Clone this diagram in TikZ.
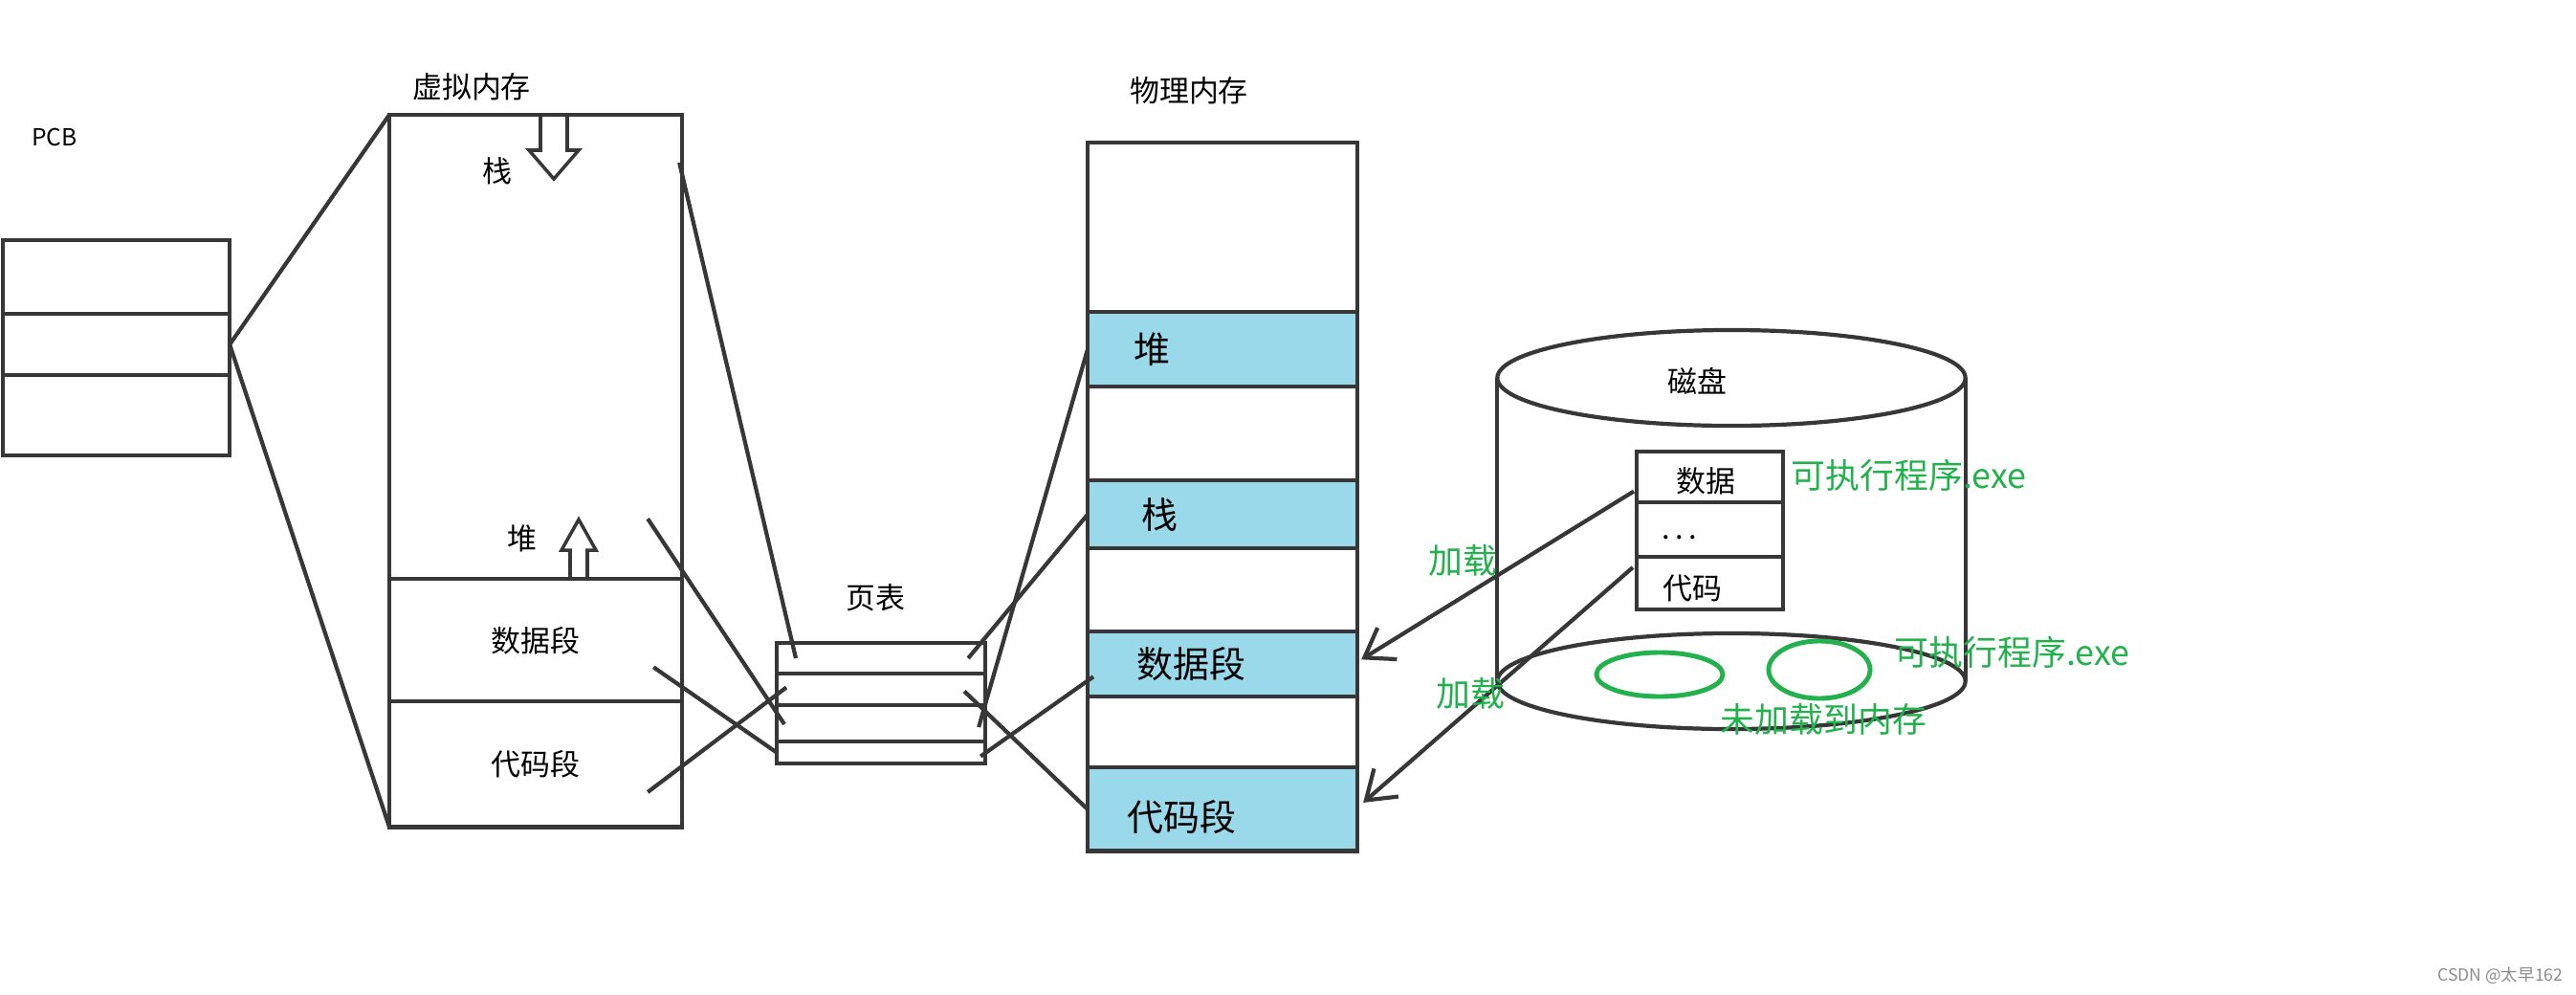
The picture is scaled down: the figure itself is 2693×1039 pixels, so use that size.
\documentclass[tikz,border=0pt]{standalone}
\usepackage{xcolor}
\usepackage{fontspec}
\setmainfont{Noto Sans CJK SC}
\usepackage{tikz}
\usetikzlibrary{positioning, calc, shapes, arrows.meta}

\definecolor{pen}{RGB}{55,55,55}
\definecolor{band}{RGB}{153,217,234}
\definecolor{paintgreen}{RGB}{34,177,76}

\begin{document}
\begin{tikzpicture}[x=0.01cm, y=-0.01cm, >={Straight Barb[length=8pt,width=11pt]},
				cell/.style={draw=pen, line width=1.2pt, inner sep=0pt, outer sep=0pt},
				seg/.style={cell, fill=band},
				wire/.style={pen, line width=1.2pt},
				ttl/.style={font=\fontsize{8.8}{9}\selectfont, inner sep=0pt},
				seglbl/.style={font=\fontsize{10.8}{11}\selectfont, inner sep=0pt},
				greentxt/.style={text=paintgreen, font=\fontsize{10.2}{11}\selectfont, inner sep=0pt},
				prog/.style={draw=paintgreen, ellipse, line width=1.4pt, inner sep=0pt}]
				\useasboundingbox (0,0) rectangle (2693,1039);
				
				%PCB
				\node[ttl, font=\fontsize{7}{7}\selectfont] (pcbt) at (57,143) {PCB};
				\node[cell, minimum width=2.37cm, minimum height=0.77cm, anchor=north west] (pcb1) at (3,251) {};
				\node[cell, minimum width=2.37cm, minimum height=0.64cm] (pcb2) [below=0pt of pcb1] {};
				\node[cell, minimum width=2.37cm, minimum height=0.84cm] (pcb3) [below=0pt of pcb2] {};
				
				%Memória virtual
				\node[ttl] (vmt) at (493,91) {虚拟内存};
				\node[cell, minimum width=3.06cm, minimum height=4.85cm, anchor=north west] (vstack) at (407,120) {};
				\node[cell, minimum width=3.06cm, minimum height=1.28cm, ttl] (vdata) [below=0pt of vstack] {数据段};
				\node[cell, minimum width=3.06cm, minimum height=1.31cm, ttl] (vcode) [below=0pt of vdata] {代码段};
				\node[ttl] (vstackt) at (520,179) {栈};
				\node[ttl] (vheapt) at (546,563) {堆};
				\draw[pen, line width=1pt] (565,120) -- (593,120) -- (593,157) -- (605,157) -- (579,187)
					-- (553,157) -- (565,157) -- cycle;
				\draw[pen, line width=1pt] (596,605) -- (596,575) -- (587,575) -- (605,543) -- (623,575)
					-- (614,575) -- (614,605);
				
				%Tabela de páginas
				\node[ttl] (ptt) at (915,625) {页表};
				\node[cell, minimum width=2.18cm, minimum height=0.32cm, anchor=north west] (pt1) at (812,672) {};
				\node[cell, minimum width=2.18cm, minimum height=0.33cm] (pt2) [below=0pt of pt1] {};
				\node[cell, minimum width=2.18cm, minimum height=0.38cm] (pt3) [below=0pt of pt2] {};
				\node[cell, minimum width=2.18cm, minimum height=0.23cm] (pt4) [below=0pt of pt3] {};
				
				%Memória física
				\node[ttl] (pmt) at (1243,95) {物理内存};
				\node[cell, minimum width=2.82cm, minimum height=1.77cm, anchor=north west] (pm0) at (1137,149) {};
				\node[seg, minimum width=2.82cm, minimum height=0.78cm] (pheap) [below=0pt of pm0] {};
				\node[cell, minimum width=2.82cm, minimum height=0.98cm] (pm1) [below=0pt of pheap] {};
				\node[seg, minimum width=2.82cm, minimum height=0.71cm] (pstack) [below=0pt of pm1] {};
				\node[cell, minimum width=2.82cm, minimum height=0.87cm] (pm2) [below=0pt of pstack] {};
				\node[seg, minimum width=2.82cm, minimum height=0.68cm] (pdata) [below=0pt of pm2] {};
				\node[cell, minimum width=2.82cm, minimum height=0.74cm] (pm3) [below=0pt of pdata] {};
				\node[seg, minimum width=2.82cm, minimum height=0.87cm] (pcode) [below=0pt of pm3] {};
				\node[seglbl, right=0.48cm of pheap.west] (pheapt) {堆};
				\node[seglbl, right=0.56cm of pstack.west] (pstackt) {栈};
				\node[seglbl, right=0.51cm of pdata.west] (pdatat) {数据段};
				\node[seglbl, right=0.41cm of pcode.west, yshift=-0.08cm] (pcodet) {代码段};
				
				%Disco
				\node[cell, ellipse, minimum width=4.89cm, minimum height=1.0cm] (dtop) at (1810,395) {};
				\node[cell, ellipse, minimum width=4.89cm, minimum height=1.0cm] (dbot) at (1810,712) {};
				\draw[wire] (dtop.west) -- (dbot.west) (dtop.east) -- (dbot.east);
				\node[ttl] (diskt) at (1774,398) {磁盘};
				\node[cell, minimum width=1.53cm, minimum height=0.53cm, anchor=north west] (dd) at (1711,472) {};
				\node[cell, minimum width=1.53cm, minimum height=0.57cm] (dm) [below=0pt of dd] {};
				\node[cell, minimum width=1.53cm, minimum height=0.55cm] (dc) [below=0pt of dm] {};
				\node[ttl] (ddt) at (1783,503) {数据};
				\node[ttl] (dmt) at (1756,562) {.\,.\,.};
				\node[ttl] (dct) at (1769,615) {代码};
				
				%Ligações:
				%PCB -> memória virtual -> tabela -> memória física
				\coordinate (vs) at ($(vstack.north east)+(-3,50)$);
				\coordinate (vh) at ($(vstack.south east)+(-36,-63)$);
				\coordinate (vd) at ($(vdata.east)+(-30,28)$);
				\coordinate (vc) at ($(vcode.east)+(-36,29)$);
				\draw[wire] (pcb2.east) -- (vstack.north west)
					(pcb2.east) -- (vcode.south west);
				\draw[wire] (vs) -- ($(pt1.west)+(20,0)$);
				\draw[wire] (vh) -- ($(pt3.west)+(8,1)$);
				\draw[wire] (vd) -- (pt4.west);
				\draw[wire] (vc) -- ($(pt2.west)+(10,-2)$);
				\draw[wire] ($(pt1.east)+(-18,0)$) -- (pstack.west);
				\draw[wire] ($(pt3.east)+(-7,4)$) -- (pheap.west);
				\draw[wire] ($(pt2.east)+(-22,2)$) -- (pcode.west);
				\draw[wire] ($(pt4.east)+(-5,4)$) -- ($(pdata.west)+(6,13)$);
				
				%Carregamento
				\draw[wire, ->] ($(dd.west)+(-3,15)$) -- ($(pdata.east)+(4,-5)$);
				\draw[wire, ->] ($(dc.north west)+(-4,11)$) -- ($(pcode.east)+(6,-7)$);
				\node[greentxt] (load1) at (1529,586) {加载};
				\node[greentxt] (load2) at (1537,725) {加载};
				
				\node[prog, minimum width=1.32cm, minimum height=0.46cm] (prog1) at (1735,705) {};
				\node[prog, minimum width=1.06cm, minimum height=0.60cm] (prog2) at (1902,700) {};
				\node[greentxt, anchor=west] (exe1) at (1872,497) {可执行程序.exe};
				\node[greentxt, anchor=west] (exe2) at (1980,682) {可执行程序.exe};
				\node[greentxt, anchor=west] (notload) at (1798,752) {未加载到内存};
				
				\node[text=black!45, font=\fontsize{5}{5}\selectfont, anchor=east, inner sep=0pt] (wm) at (2680,1020) {CSDN @太早162};
			\end{tikzpicture}
\end{document}
